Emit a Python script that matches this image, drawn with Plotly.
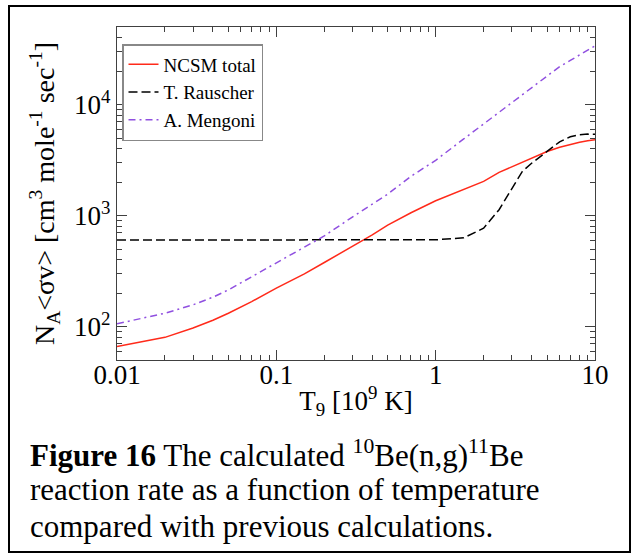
import numpy as np
import plotly.graph_objects as go

# ---- data ----
ncsm_T = [0.01, 0.02, 0.03, 0.04, 0.05, 0.07, 0.1, 0.15, 0.2, 0.3, 0.4, 0.5, 0.7, 1.0,
          1.5, 2.0, 2.5, 3.0, 4.0, 5.0, 6.0, 7.0, 8.0, 9.0, 10.0]
ncsm_rate = [66, 80, 97, 114, 132, 168, 222, 298, 378, 525, 670, 820, 1060, 1360,
             1720, 2030, 2450, 2750, 3300, 3780, 4120, 4380, 4580, 4720, 4820]

raus_T = [0.01, 0.1, 1.0, 1.5, 2.0, 2.5, 3.0, 3.5, 4.0, 5.0, 6.0, 7.0, 8.0, 9.0, 10.0]
raus_rate = [603, 603, 605, 630, 770, 1130, 1750, 2500, 2960, 3780, 4620, 5130, 5350, 5420, 5400]

meng_T = [0.01, 0.02, 0.03, 0.04, 0.05, 0.07, 0.1, 0.15, 0.2, 0.3, 0.4, 0.5, 0.7, 1.0,
          1.5, 2.0, 2.5, 3.0, 4.0, 5.0, 6.0, 7.0, 8.0, 9.0, 10.0]
meng_rate = [106, 132, 157, 184, 214, 280, 373, 520, 656, 970, 1280, 1560, 2260, 3150,
             4900, 6700, 8500, 10300, 14000, 17900, 22000, 25000, 28000, 31000, 33800]

x_ticks = [0.01, 0.1, 1, 10]
x_ticktext = ["0.01", "0.1", "1", "10"]
y_ticks = [100, 1000, 10000]
y_ticktext = ["10<sup>2</sup>", "10<sup>3</sup>", "10<sup>4</sup>"]

x_minor = [m * 10.0 ** e for e in range(-2, 1) for m in range(2, 10)]
y_minor = [m * 10.0 ** e for e in range(1, 5) for m in range(2, 10) if 50 <= m * 10.0 ** e <= 50000]

# ---- layout constants (pixels) ----
W, H = 634, 554
L, R, T, B = 117, 595, 27, 360
pw, ph = R - L, B - T
FONT = "Liberation Serif, Times New Roman, serif"
AX = "#404040"

fig = go.Figure()
fig.add_trace(go.Scatter(x=ncsm_T, y=ncsm_rate, mode="lines", name="NCSM total",
                         line=dict(color="#ff2a1a", width=1.5)))
fig.add_trace(go.Scatter(x=raus_T, y=raus_rate, mode="lines", name="T. Rauscher",
                         line=dict(color="black", width=1.5, dash="9px,4px")))
fig.add_trace(go.Scatter(x=meng_T, y=meng_rate, mode="lines", name="A. Mengoni",
                         line=dict(color="#9050e0", width=1.5, dash="7px,4px,2px,4px")))

axis_common = dict(showgrid=False, zeroline=False, showline=True, linecolor=AX, linewidth=1.3,
                   mirror="allticks", ticks="inside", ticklen=10, tickwidth=1.2, tickcolor=AX,
                   tickfont=dict(family=FONT, size=27, color="black"))

fig.update_xaxes(type="log", range=[-2, 1], tickvals=x_ticks, ticktext=x_ticktext,
                 ticklabelstandoff=-10,
                 minor=dict(ticks="inside", ticklen=5, tickwidth=1.2, tickcolor=AX, tickvals=x_minor),
                 title=dict(text="T<sub>9</sub> [10<sup>9</sup> K]", font=dict(family=FONT, size=27, color="black"),
                            standoff=2),
                 **axis_common)
fig.update_yaxes(type="log", range=[np.log10(50), np.log10(50000)], tickvals=y_ticks, ticktext=y_ticktext,
                 minor=dict(ticks="inside", ticklen=5, tickwidth=1.2, tickcolor=AX, tickvals=y_minor),
                 title=dict(text="N<sub>A</sub>&lt;σv&gt; [cm<sup>3</sup> mole<sup>-1</sup> sec<sup>-1</sup>]",
                            font=dict(family=FONT, size=28, color="black"), standoff=11),
                 **axis_common)

def px_x(p):
    return (p - L) / pw

def px_y(p):
    return (B - p) / ph

shapes = [dict(type="rect", xref="paper", yref="paper",
               x0=px_x(9), x1=px_x(630), y0=px_y(552), y1=px_y(6),
               line=dict(color="black", width=2), fillcolor="rgba(0,0,0,0)", layer="below")]

cap_font = dict(family=FONT, size=31, color="black")
captions = [
    ("<b>Figure 16</b> The calculated <sup>10</sup>Be(n,g)<sup>11</sup>Be", 453),
    ("reaction rate as a function of temperature", 490),
    ("compared with previous calculations.", 526),
]
annotations = [dict(text=t, xref="paper", yref="paper", x=px_x(28), y=px_y(yc),
                    xanchor="left", yanchor="middle", showarrow=False, font=cap_font)
               for t, yc in captions]

fig.update_layout(
    width=W, height=H,
    margin=dict(l=L, r=W - R, t=T, b=H - B),
    paper_bgcolor="white", plot_bgcolor="white",
    showlegend=True,
    legend=dict(x=px_x(122), y=px_y(44), xanchor="left", yanchor="top",
                bgcolor="white", bordercolor="#888888", borderwidth=1.5,
                font=dict(family=FONT, size=19, color="black"),
                tracegroupgap=0, itemwidth=30),
    shapes=shapes, annotations=annotations,
)

fig.write_html("out.html")
